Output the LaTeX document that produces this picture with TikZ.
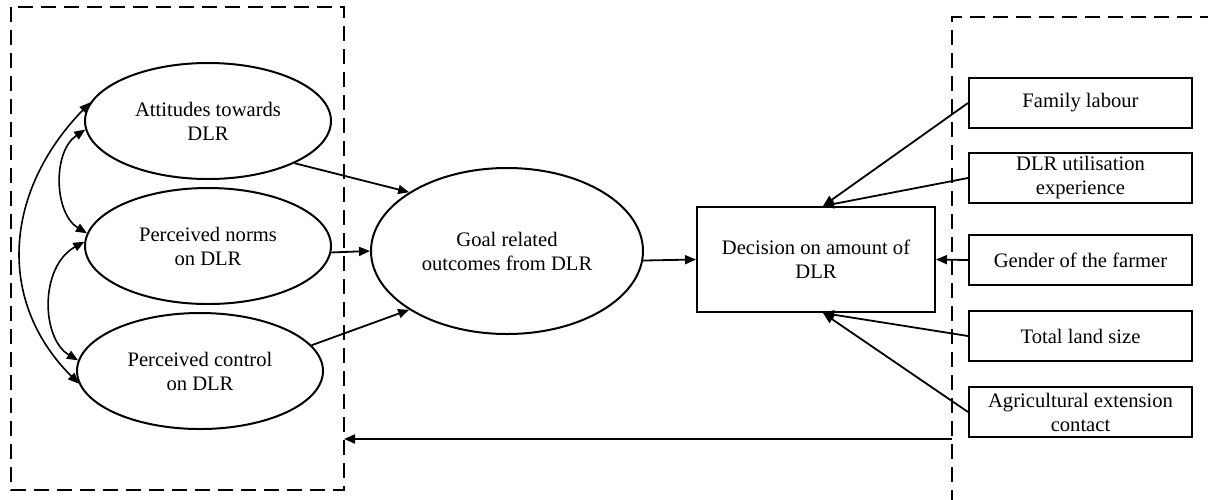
\documentclass[tikz,border=0pt]{standalone}
\usepackage{fontspec}
\setmainfont{Liberation Serif}
\usetikzlibrary{shapes.geometric,arrows.meta}
\begin{document}
\begin{tikzpicture}[x=1pt,y=-1pt,
  every node/.style={font=\fontsize{20.6}{24}\selectfont, align=center, inner sep=0pt},
  construct/.style={draw, ellipse, line width=2pt, minimum width=246pt, minimum height=116pt},
  factor/.style={draw, rectangle, line width=2pt, minimum width=223pt, minimum height=50pt},
  frame/.style={dash pattern=on 15pt off 8pt, line width=2pt},
  link/.style={line width=1.8pt, -{Triangle[length=11pt,width=9pt]}},
  covar/.style={line width=1.6pt, {Triangle[length=11pt,width=9pt]}-{Triangle[length=11pt,width=9pt]}}]
\useasboundingbox (0,0) rectangle (1208,499);

% grouping frames
\draw[frame] (11,7) rectangle (344,490);
\draw[frame] (1215,17) -- (952,17) -- (952,510);
\coordinate (rb) at (952,439);
\coordinate (lb) at (344,439);

% theory of planned behaviour constructs
\node[construct] (att) at (208,121) {Attitudes towards\\DLR};
\node[construct] (nrm) at (208,246) {Perceived norms\\on DLR};
\node[construct] (ctl) at (200,371) {Perceived control\\on DLR};
\node[construct, minimum width=272pt, minimum height=166pt] (goal) at (507,251) {Goal related\\outcomes from DLR};

% decision
\node[draw, rectangle, line width=2pt, minimum width=238pt, minimum height=105pt] (dec) at (816,259.5) {Decision on amount of\\DLR};

% socio-economic factors
\node[factor] (fam) at (1080.5,103) {Family labour};
\node[factor] (use) at (1080.5,178) {DLR utilisation\\experience};
\node[factor] (gen) at (1080.5,260) {Gender of the farmer};
\node[factor] (land) at (1080.5,336) {Total land size};
\node[factor] (ext) at (1080.5,412) {Agricultural extension\\contact};

% correlations among constructs
\draw[covar] (att.184) .. controls +(-33,22) and +(-33,-20) .. (nrm.174);
\draw[covar] (nrm.178) .. controls +(-45,25) and +(-37,-22) .. (ctl.175);
\draw[covar] (att.171) .. controls (5,190) and (-5,300) .. (ctl.186);

% paths to goal outcomes and decision
\draw[link] (att.-26) -- (goal.149);
\draw[link] (nrm.-3) -- (goal.180);
\draw[link] (ctl.13) -- (goal.211);
\draw[link] (goal.-4) -- (dec.west);

% factors to decision
\draw[link] (fam.west) -- ([xshift=7pt]dec.north);
\draw[link] (use.west) -- ([xshift=7pt]dec.north);
\draw[link] (gen.west) -- (dec.east);
\draw[link] (land.west) -- ([xshift=7pt]dec.south);
\draw[link] (ext.west) -- ([xshift=7pt]dec.south);

% factors moderating the constructs
\draw[link] (rb) -- (lb);
\end{tikzpicture}
\end{document}
